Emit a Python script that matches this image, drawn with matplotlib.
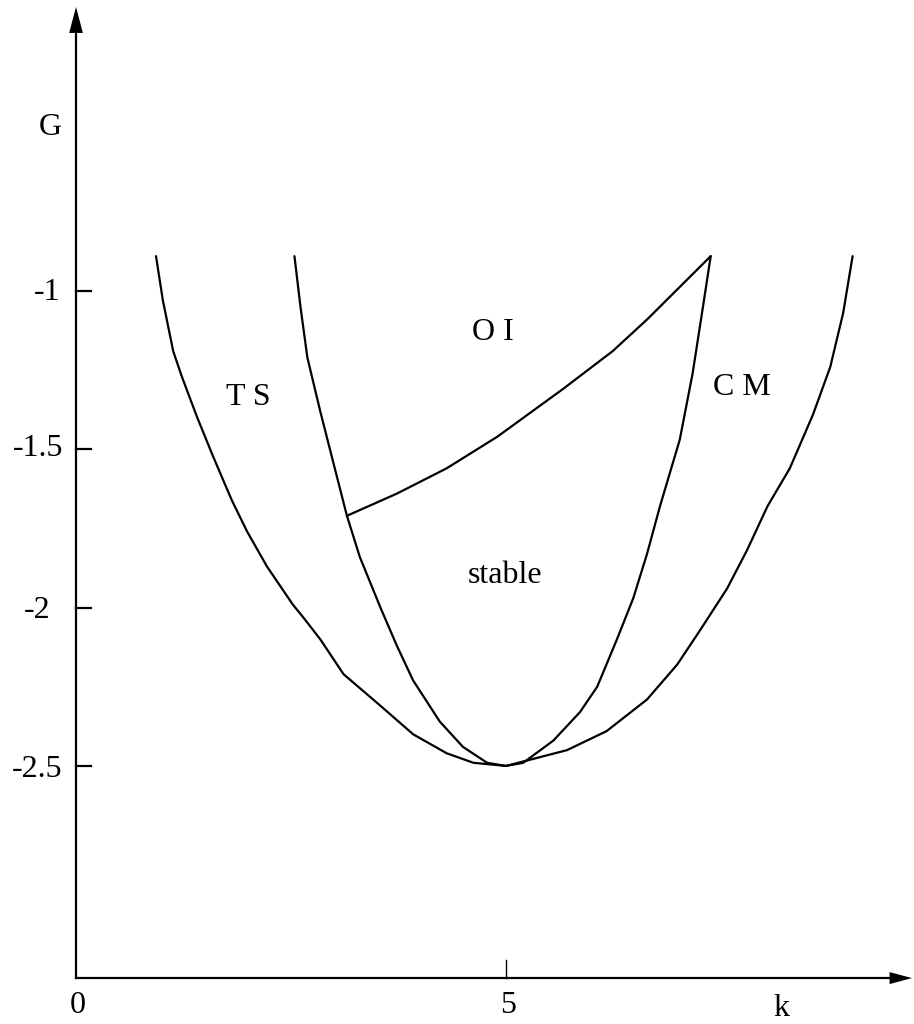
import matplotlib
matplotlib.use('Agg')
import matplotlib.pyplot as plt

# outer boundary (TS / CM)
outer_k = [0.93, 1.01, 1.13, 1.23, 1.41, 1.59, 1.81, 1.99, 2.22, 2.52, 2.64, 2.84,
           3.11, 3.54, 3.92, 4.31, 4.62, 5.00, 5.71, 6.17, 6.64, 6.99, 7.26, 7.57,
           7.80, 8.04, 8.30, 8.57, 8.77, 8.92, 9.03]
outer_G = [-0.89, -1.03, -1.19, -1.27, -1.40, -1.52, -1.66, -1.76, -1.87, -1.99, -2.03, -2.10,
           -2.21, -2.31, -2.40, -2.46, -2.49, -2.50, -2.45, -2.39, -2.29, -2.18, -2.07, -1.94,
           -1.82, -1.68, -1.56, -1.39, -1.24, -1.07, -0.89]

# inner boundary
inner_k = [2.54, 2.61, 2.69, 2.84, 2.99, 3.15, 3.30, 3.54, 3.73, 3.92, 4.23, 4.50,
           4.78, 5.00, 5.20, 5.55, 5.86, 6.06, 6.29, 6.48, 6.64, 6.79, 7.02, 7.17,
           7.29, 7.38]
inner_G = [-0.89, -1.05, -1.21, -1.38, -1.54, -1.71, -1.84, -2.00, -2.12, -2.23, -2.36, -2.44,
           -2.49, -2.50, -2.49, -2.42, -2.33, -2.25, -2.10, -1.97, -1.83, -1.68, -1.47, -1.26,
           -1.05, -0.89]

# OI boundary
oi_k = [3.15, 3.73, 4.31, 4.90, 5.66, 6.24, 6.64, 7.38]
oi_G = [-1.71, -1.64, -1.56, -1.46, -1.31, -1.19, -1.09, -0.89]

ytick_vals = [-1, -1.5, -2, -2.5]
ytick_labels = ['-1', '-1.5', '-2', '-2.5']
xtick_vals = [0, 5]
xtick_labels = ['0', '5']

region_labels = ['T S', 'O I', 'C M', 'stable']
region_pos = [(2.00, -1.335), (4.85, -1.13), (7.74, -1.306), (4.99, -1.90)]

plt.rcParams['font.family'] = ['Liberation Serif', 'DejaVu Serif']

fig = plt.figure(figsize=(9.14, 10.24), dpi=100)
ax = fig.add_axes([0, 0, 1, 1])
ax.set_xlim(-0.884, 9.744)
ax.set_ylim(-3.315, -0.081)
ax.axis('off')

lw = 1.6
x0, y0 = 0.0, -3.17

# axes with arrow heads
ax.plot([x0, 9.5], [y0, y0], color='black', lw=lw)
ax.plot([x0, x0], [y0, -0.17], color='black', lw=lw)
ax.fill([x0, x0 - 0.08, x0 + 0.08], [-0.103, -0.185, -0.185], color='black', lw=0)
ax.fill([9.72, 9.46, 9.46], [y0, y0 + 0.019, y0 - 0.019], color='black', lw=0)

# ticks
for v in ytick_vals:
    ax.plot([x0, x0 + 0.17], [v, v], color='black', lw=lw)
ax.plot([5, 5], [y0, y0 + 0.057], color='black', lw=1.0)

fs = 23
ytick_x = [-0.337, -0.442, -0.453, -0.453]
ytick_y = [-1.006, -1.496, -2.008, -2.51]
for xx, yy, lab in zip(ytick_x, ytick_y, ytick_labels):
    ax.text(xx, yy, lab, fontsize=fs, ha='center', va='center')
for v, lab in zip(xtick_vals, xtick_labels):
    ax.text(v + 0.02, -3.258, lab, fontsize=fs, ha='center', va='center')
ax.text(8.20, -3.265, 'k', fontsize=fs, ha='center', va='center')
ax.text(-0.302, -0.485, 'G', fontsize=fs, ha='center', va='center')

# curves
for kk, gg in [(outer_k, outer_G), (inner_k, inner_G), (oi_k, oi_G)]:
    ax.plot(kk, gg, color='black', lw=lw, solid_joinstyle='round', solid_capstyle='round')

for lab, (xx, yy) in zip(region_labels, region_pos):
    ax.text(xx, yy, lab, fontsize=fs, ha='center', va='center')

fig.savefig('out.png', dpi=100)
